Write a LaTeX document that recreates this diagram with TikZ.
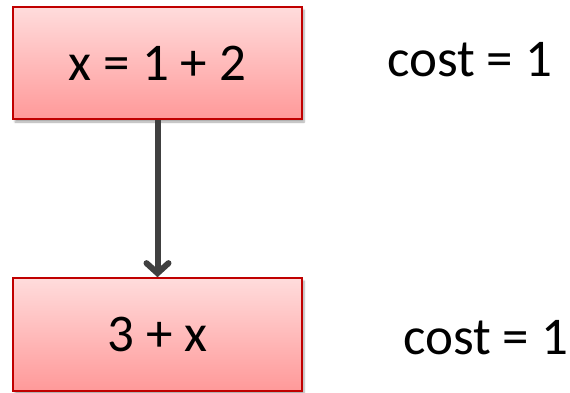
\documentclass[tikz,border=0pt]{standalone}
\usepackage{fontspec}
\setmainfont{Carlito}
\usetikzlibrary{arrows.meta,shadows.blur}
\definecolor{boxtop}{HTML}{FFDCDC}
\definecolor{boxbot}{HTML}{FF9999}
\definecolor{boxline}{HTML}{C00000}
\definecolor{arrowc}{HTML}{404040}
\tikzset{
  stmt/.style={draw=boxline, line width=1.6pt, top color=boxtop, bottom color=boxbot,
    minimum width=289pt, minimum height=112pt, inner sep=0pt,
    font=\fontsize{53}{60}\selectfont,
    blur shadow={shadow xshift=2pt, shadow yshift=-3pt, shadow blur steps=6, shadow opacity=35}},
  costlbl/.style={font=\fontsize{53}{60}\selectfont, inner sep=0pt, anchor=base west},
  flow/.style={draw=arrowc, line width=6pt, -{Straight Barb[length=10pt,width=22pt,line cap=round]}}
}
\begin{document}
\begin{tikzpicture}[x=1pt,y=1pt]
\useasboundingbox (0,0) rectangle (570,-392);
\node[stmt] (a) at (157.5,-63) {x = 1 + 2};
\node[stmt, minimum height=113pt] (b) at (157.5,-334.5) {3 + x};
\node[costlbl] (ca) at (387,-76) {cost = 1};
\node[costlbl] (cb) at (403,-354) {cost = 1};
\draw[flow] (a.south) -- (b.north);
\end{tikzpicture}
\end{document}
